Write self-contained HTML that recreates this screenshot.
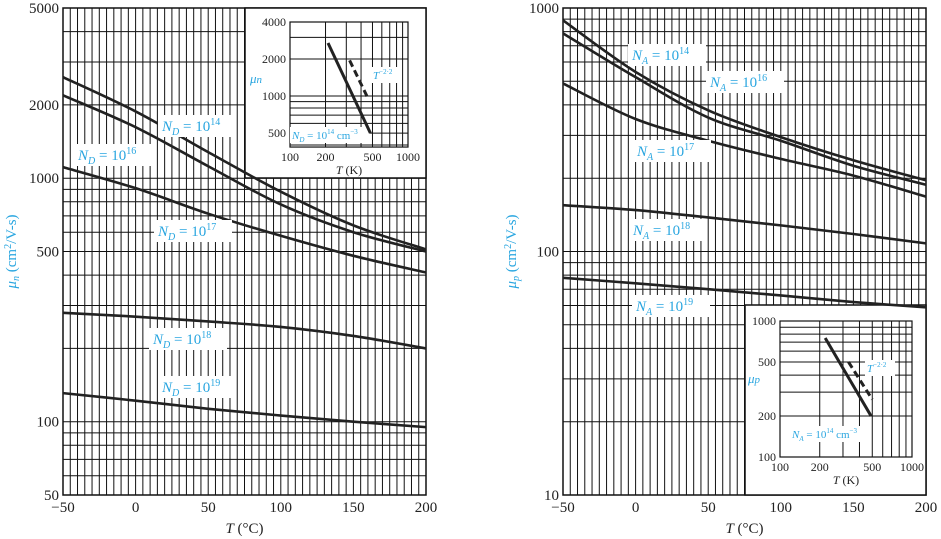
<!DOCTYPE html>
<html><head><meta charset="utf-8">
<style>
html,body{margin:0;padding:0;background:#fff;}
svg{display:block;font-family:"Liberation Serif",serif;}
.tk{font-size:15px;fill:#222;}
.it{font-size:12px;fill:#222;}
.lb{font-size:15px;fill:#2aa6e0;}
.i{font-style:italic;}
</style></head>
<body>
<svg id="chart" width="941" height="539" viewBox="0 0 941 539" xmlns="http://www.w3.org/2000/svg"></svg>
<script>
// ---- data ----
const temps = [-50, 0, 50, 100, 150, 200];
const nD14 = [2600, 1880, 1280, 880, 640, 510];
const nD16 = [2190, 1620, 1120, 780, 600, 500];
const nD17 = [1110, 910, 715, 580, 480, 410];
const nD18 = [280, 270, 258, 245, 225, 200];
const nD19 = [131, 122, 113, 106, 100, 95];
const pA14 = [890, 546, 380, 295, 237, 196];
const pA16 = [787, 520, 355, 285, 225, 188];
const pA17 = [490, 350, 285, 240, 205, 168];
const pA18 = [155, 148, 138, 128, 118, 108];
const pA19 = [78, 74, 70, 66, 62, 59];
const xTicks = [-50, 0, 50, 100, 150, 200];
const leftYTicks = [50, 100, 500, 1000, 2000, 5000];
const rightYTicks = [10, 100, 1000];
const insetX = [100, 200, 500, 1000];
const insetNSolidT = [210, 480];
const insetNSolidMu = [2700, 500];
const insetNDashT = [320, 460];
const insetNDashMu = [1950, 950];
const insetPSolidT = [220, 490];
const insetPSolidMu = [750, 200];
const insetPDashT = [330, 500];
const insetPDashMu = [500, 265];

const svg = document.getElementById('chart');
const NS = 'http://www.w3.org/2000/svg';
function mk(tag, attrs, parent){const e=document.createElementNS(NS,tag);for(const k in attrs)e.setAttribute(k,attrs[k]);(parent||svg).appendChild(e);return e;}
function logGrid(lo,hi){const v=[];for(let d=Math.pow(10,Math.floor(Math.log10(lo)));d<hi;d*=10){for(let m=1;m<10;m++){const x=m*d;if(x>=lo-1e-9&&x<=hi+1e-9)v.push(x);}}if(!v.includes(hi))v.push(hi);return v;}

function mainPlot(cfg){
  const xS=t=>cfg.x0+(t+50)/250*(cfg.x1-cfg.x0);
  const yS=v=>cfg.yTop+(Math.log10(cfg.vTop)-Math.log10(v))*cfg.dec;
  const g=mk('g',{});
  
  
  for(let t=-50;t<=200;t+=5){
    const l=mk('line',{x1:xS(t),x2:xS(t),y1:yS(cfg.vTop),y2:yS(cfg.vBot),stroke:'#111','stroke-width':1},g);
    
    
  }
  logGrid(cfg.vBot,cfg.vTop).forEach(v=>{
    const l=mk('line',{x1:xS(-50),x2:xS(200),y1:yS(v),y2:yS(v),stroke:'#111','stroke-width':1},g);
    
    
  });
  mk('rect',{x:xS(-50),y:yS(cfg.vTop),width:xS(200)-xS(-50),height:yS(cfg.vBot)-yS(cfg.vTop),fill:'none',stroke:'#111','stroke-width':1.5},g);
  xTicks.forEach(t=>{const e=mk('text',{x:xS(t),y:yS(cfg.vBot)+17,'text-anchor':'middle',class:'tk'},g);e.textContent=(t<0?'\u2212'+(-t):t);
    });
  cfg.yTicks.forEach(v=>{const e=mk('text',{x:xS(-50)-4,y:yS(v)+5,'text-anchor':'end',class:'tk'},g);e.textContent=v;
    });
  const xt=mk('text',{x:(xS(-50)+xS(200))/2,y:533,'text-anchor':'middle',class:'tk'},g);
  xt.innerHTML='<tspan font-style="italic">T</tspan> (°C)';
  
  const yt=mk('text',{transform:`translate(${cfg.ytX},${(yS(cfg.vTop)+yS(cfg.vBot))/2}) rotate(-90)`,'text-anchor':'middle',class:'tk',style:'fill:#2aa6e0'},g);
  yt.innerHTML='<tspan font-style="italic">μ</tspan><tspan font-size="10" dy="3" font-style="italic">'+cfg.sub+'</tspan><tspan dy="-3"> (cm</tspan><tspan font-size="10" dy="-5">2</tspan><tspan dy="5">/V-s)</tspan>';
  
  // inset
  const ins=cfg.inset;
  mk('rect',{x:ins.bx,y:ins.by,width:ins.bw,height:ins.bh,fill:'#fff',stroke:'#111','stroke-width':1.5},g);
  const ixS=T=>ins.ax0+Math.log10(T/100)*(ins.ax1-ins.ax0);
  const iyS=v=>ins.ayTop+(Math.log10(ins.vTop)-Math.log10(v))*ins.dec;
  for(let T=100;T<=1000;T+=100){mk('line',{x1:ixS(T),x2:ixS(T),y1:iyS(ins.vTop),y2:iyS(ins.vBot),stroke:'#111','stroke-width':1},g);}
  logGrid(ins.vBot,ins.vTop).forEach(v=>mk('line',{x1:ixS(100),x2:ixS(1000),y1:iyS(v),y2:iyS(v),stroke:'#111','stroke-width':1},g));
  mk('rect',{x:ixS(100),y:iyS(ins.vTop),width:ixS(1000)-ixS(100),height:iyS(ins.vBot)-iyS(ins.vTop),fill:'none',stroke:'#111','stroke-width':1.2},g);
  insetX.forEach(T=>{const e=mk('text',{x:ixS(T),y:iyS(ins.vBot)+14,'text-anchor':'middle',class:'it'},g);e.textContent=T;});
  ins.yTicks.forEach(v=>{const e=mk('text',{x:ixS(100)-4,y:iyS(v)+4,'text-anchor':'end',class:'it'},g);e.textContent=v;});
  const ixt=mk('text',{x:(ixS(100)+ixS(1000))/2,y:iyS(ins.vBot)+27,'text-anchor':'middle',class:'it'},g);
  ixt.innerHTML='<tspan font-style="italic">T</tspan> (K)';
  const iyt=mk('text',{x:ins.ylX,y:ins.ylY,class:'lb i',style:'font-size:13px'},g);
  iyt.innerHTML='μ<tspan font-size="11">'+cfg.sub+'</tspan>';
  mk('rect',{x:ins.lbl.x-2,y:ins.lbl.y-12,width:ins.lbl.w,height:16,fill:'#fff'},g);
  const il=mk('text',{x:ins.lbl.x,y:ins.lbl.y,class:'lb',style:'font-size:11px'},g);
  il.innerHTML='<tspan class="i">N</tspan><tspan class="i" font-size="7" dy="3">'+cfg.dop+'</tspan><tspan dy="-3"> = 10</tspan><tspan font-size="7" dy="-5">14</tspan><tspan dy="5"> cm</tspan><tspan font-size="7" dy="-5">−3</tspan>';
  mk('rect',{x:ins.tl.x-2,y:ins.tl.y-12,width:30,height:16,fill:'#fff'},g);
  const tl=mk('text',{x:ins.tl.x,y:ins.tl.y,class:'lb',style:'font-size:11px'},g);
  tl.innerHTML='<tspan class="i">T</tspan><tspan font-size="7" dy="-5">−2·2</tspan>';
  const sp=mk('line',{x1:ixS(ins.sT[0]),y1:iyS(ins.sMu[0]),x2:ixS(ins.sT[1]),y2:iyS(ins.sMu[1]),stroke:'#222','stroke-width':3},g);
  
  const dp=mk('line',{x1:ixS(ins.dT[0]),y1:iyS(ins.dMu[0]),x2:ixS(ins.dT[1]),y2:iyS(ins.dMu[1]),stroke:'#222','stroke-width':3,'stroke-dasharray':'7,4'},g);
  
  // curves
  cfg.series.forEach(s=>{
    const pts=temps.map((t,i)=>[xS(t),yS(s.v[i])]);
    let d='M'+pts[0].join(',');
    for(let i=0;i<pts.length-1;i++){
      const p0=pts[i-1]||pts[i],p1=pts[i],p2=pts[i+1],p3=pts[i+2]||p2;
      const c1=[p1[0]+(p2[0]-p0[0])/6,p1[1]+(p2[1]-p0[1])/6];
      const c2=[p2[0]-(p3[0]-p1[0])/6,p2[1]-(p3[1]-p1[1])/6];
      d+=' C'+c1.join(',')+' '+c2.join(',')+' '+p2.join(',');
    }
    const p=mk('path',{d:d,fill:'none',stroke:'#222','stroke-width':2.6},g);
    
    
    mk('rect',{x:s.lx-4,y:s.ly-16,width:78,height:22,fill:'#fff'},g);
    const t=mk('text',{x:s.lx,y:s.ly,class:'lb'},g);
    t.innerHTML='<tspan class="i">N</tspan><tspan class="i" font-size="10" dy="4">'+cfg.dop+'</tspan><tspan dy="-4"> = 10</tspan><tspan font-size="10" dy="-6">'+s.exp+'</tspan>';
    
    
  });
}

mainPlot({name:'electron-mobility-plot',x0:63,x1:426,yTop:8,vTop:5000,vBot:50,dec:243.5,yTicks:leftYTicks,ytX:16,sub:'n',dop:'D',
  inset:{bx:245,by:8,bw:181,bh:170,ax0:290,ax1:408,ayTop:22,vTop:4000,vBot:385,dec:123,yTicks:[500,1000,2000,4000],ylX:250,ylY:83,
    lbl:{x:292,y:139,w:80},tl:{x:373,y:79},sT:insetNSolidT,sMu:insetNSolidMu,dT:insetNDashT,dMu:insetNDashMu},
  series:[{v:nD14,exp:14,lx:162,ly:131},{v:nD16,exp:16,lx:78,ly:160},{v:nD17,exp:17,lx:158,ly:236},{v:nD18,exp:18,lx:153,ly:344},{v:nD19,exp:19,lx:162,ly:392}]});

mainPlot({name:'hole-mobility-plot',x0:563,x1:926,yTop:8,vTop:1000,vBot:10,dec:243.5,yTicks:rightYTicks,ytX:516,sub:'p',dop:'A',
  inset:{bx:745,by:305,bw:181,bh:190,ax0:780,ax1:912,ayTop:321,vTop:1000,vBot:100,dec:136,yTicks:[100,200,500,1000],ylX:748,ylY:383,
    lbl:{x:792,y:438,w:80},tl:{x:867,y:372},sT:insetPSolidT,sMu:insetPSolidMu,dT:insetPDashT,dMu:insetPDashMu},
  series:[{v:pA14,exp:14,lx:632,ly:60},{v:pA16,exp:16,lx:710,ly:87},{v:pA17,exp:17,lx:637,ly:156},{v:pA18,exp:18,lx:633,ly:235},{v:pA19,exp:19,lx:636,ly:311}]});
</script>
</body></html>
